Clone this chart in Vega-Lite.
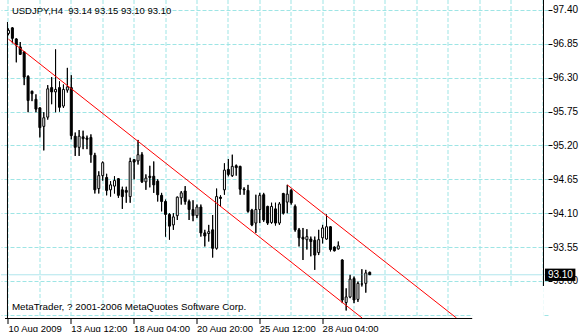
{
  "$schema": "https://vega.github.io/schema/vega-lite/v6.json",
  "width": 547,
  "height": 318,
  "autosize": {"type": "none"},
  "padding": {"left": 1, "top": 0, "right": 36, "bottom": 14},
  "background": "white",
  "config": {
    "view": {"stroke": null},
    "axis": {"labelFont": "Liberation Sans", "labelFontSize": 10, "labelColor": "black"}
  },
  "datasets": {
    "candles": [
      {"i":0,"o":97.02,"h":97.10,"l":96.99,"c":97.07},
      {"i":1,"o":97.11,"h":97.12,"l":96.86,"c":96.94},
      {"i":2,"o":96.93,"h":96.94,"l":96.55,"c":96.83},
      {"i":3,"o":96.80,"h":96.88,"l":96.67,"c":96.68},
      {"i":4,"o":96.72,"h":96.73,"l":96.18,"c":96.31},
      {"i":5,"o":96.32,"h":96.34,"l":95.74,"c":95.93},
      {"i":6,"o":96.08,"h":96.09,"l":95.92,"c":96.04},
      {"i":7,"o":95.95,"h":96.03,"l":95.74,"c":95.79},
      {"i":8,"o":95.81,"h":95.82,"l":95.33,"c":95.49},
      {"i":9,"o":95.51,"h":95.74,"l":95.12,"c":95.65},
      {"i":10,"o":95.66,"h":96.18,"l":95.62,"c":96.12},
      {"i":11,"o":96.14,"h":96.31,"l":95.87,"c":96.07},
      {"i":12,"o":96.07,"h":96.76,"l":95.74,"c":96.11},
      {"i":13,"o":96.14,"h":96.24,"l":95.75,"c":95.82},
      {"i":14,"o":95.84,"h":96.19,"l":95.81,"c":96.11},
      {"i":15,"o":96.10,"h":96.46,"l":96.06,"c":96.15},
      {"i":16,"o":96.14,"h":96.34,"l":95.30,"c":95.36},
      {"i":17,"o":95.35,"h":95.41,"l":95.03,"c":95.17},
      {"i":18,"o":95.17,"h":95.45,"l":95.03,"c":95.35},
      {"i":19,"o":95.34,"h":95.44,"l":95.14,"c":95.31},
      {"i":20,"o":95.32,"h":95.36,"l":95.14,"c":95.30},
      {"i":21,"o":95.33,"h":95.38,"l":94.92,"c":95.05},
      {"i":22,"o":95.04,"h":95.08,"l":94.42,"c":94.48},
      {"i":23,"o":94.50,"h":94.78,"l":94.42,"c":94.71},
      {"i":24,"o":94.71,"h":94.94,"l":94.63,"c":94.92},
      {"i":25,"o":94.68,"h":94.74,"l":94.39,"c":94.47},
      {"i":26,"o":94.48,"h":94.62,"l":94.37,"c":94.56},
      {"i":27,"o":94.54,"h":94.70,"l":94.42,"c":94.63},
      {"i":28,"o":94.66,"h":94.67,"l":94.35,"c":94.39},
      {"i":29,"o":94.48,"h":94.53,"l":94.17,"c":94.37},
      {"i":30,"o":94.47,"h":94.53,"l":94.27,"c":94.44},
      {"i":31,"o":94.37,"h":95.00,"l":94.27,"c":94.94},
      {"i":32,"o":94.97,"h":94.98,"l":94.65,"c":94.93},
      {"i":33,"o":94.95,"h":95.29,"l":94.89,"c":95.05},
      {"i":34,"o":95.05,"h":95.09,"l":94.59,"c":94.61},
      {"i":35,"o":94.61,"h":94.73,"l":94.48,"c":94.67},
      {"i":36,"o":94.70,"h":94.87,"l":94.52,"c":94.68},
      {"i":37,"o":94.70,"h":94.94,"l":94.43,"c":94.56},
      {"i":38,"o":94.62,"h":94.65,"l":94.29,"c":94.40},
      {"i":39,"o":94.39,"h":94.43,"l":94.13,"c":94.29},
      {"i":40,"o":94.29,"h":94.32,"l":93.72,"c":94.08},
      {"i":41,"o":94.08,"h":94.10,"l":93.67,"c":93.89},
      {"i":42,"o":93.91,"h":94.10,"l":93.83,"c":94.04},
      {"i":43,"o":94.06,"h":94.37,"l":93.99,"c":94.36},
      {"i":44,"o":94.35,"h":94.46,"l":94.24,"c":94.43},
      {"i":45,"o":94.46,"h":94.54,"l":94.24,"c":94.29},
      {"i":46,"o":94.29,"h":94.32,"l":93.99,"c":94.16},
      {"i":47,"o":94.16,"h":94.31,"l":93.97,"c":94.06},
      {"i":48,"o":94.06,"h":94.24,"l":94.02,"c":94.20},
      {"i":49,"o":94.20,"h":94.24,"l":93.72,"c":93.78},
      {"i":50,"o":93.78,"h":93.83,"l":93.56,"c":93.73},
      {"i":51,"o":93.77,"h":93.91,"l":93.64,"c":93.80},
      {"i":52,"o":93.83,"h":94.07,"l":93.38,"c":93.53},
      {"i":53,"o":93.53,"h":94.50,"l":93.51,"c":94.37},
      {"i":54,"o":94.36,"h":94.39,"l":94.21,"c":94.34},
      {"i":55,"o":94.48,"h":94.91,"l":94.40,"c":94.80},
      {"i":56,"o":94.81,"h":94.98,"l":94.70,"c":94.73},
      {"i":57,"o":94.71,"h":95.05,"l":94.69,"c":94.86},
      {"i":58,"o":94.87,"h":94.89,"l":94.71,"c":94.84},
      {"i":59,"o":94.86,"h":94.87,"l":94.40,"c":94.49},
      {"i":60,"o":94.49,"h":94.52,"l":94.40,"c":94.48},
      {"i":61,"o":94.47,"h":94.56,"l":94.11,"c":94.13},
      {"i":62,"o":94.15,"h":94.17,"l":93.89,"c":93.91},
      {"i":63,"o":93.94,"h":94.40,"l":93.78,"c":94.16},
      {"i":64,"o":94.16,"h":94.43,"l":93.94,"c":94.39},
      {"i":65,"o":94.40,"h":94.43,"l":93.96,"c":93.99},
      {"i":66,"o":94.21,"h":94.22,"l":93.91,"c":93.94},
      {"i":67,"o":93.95,"h":94.27,"l":93.93,"c":94.21},
      {"i":68,"o":94.17,"h":94.27,"l":93.90,"c":93.94},
      {"i":69,"o":93.94,"h":94.28,"l":93.91,"c":94.25},
      {"i":70,"o":94.42,"h":94.43,"l":94.08,"c":94.10},
      {"i":71,"o":94.28,"h":94.56,"l":94.10,"c":94.41},
      {"i":72,"o":94.47,"h":94.49,"l":94.24,"c":94.27},
      {"i":73,"o":94.21,"h":94.24,"l":93.80,"c":93.83},
      {"i":74,"o":93.83,"h":93.86,"l":93.56,"c":93.70},
      {"i":75,"o":93.71,"h":93.86,"l":93.34,"c":93.68},
      {"i":76,"o":93.67,"h":93.84,"l":93.51,"c":93.72},
      {"i":77,"o":93.68,"h":93.72,"l":93.40,"c":93.64},
      {"i":78,"o":93.66,"h":93.72,"l":93.18,"c":93.42},
      {"i":79,"o":93.46,"h":93.83,"l":93.42,"c":93.67},
      {"i":80,"o":93.70,"h":93.91,"l":93.61,"c":93.86},
      {"i":81,"o":93.68,"h":94.08,"l":93.67,"c":93.88},
      {"i":82,"o":93.88,"h":93.89,"l":93.48,"c":93.51},
      {"i":83,"o":93.55,"h":93.56,"l":93.48,"c":93.49},
      {"i":84,"o":93.52,"h":93.64,"l":93.51,"c":93.57},
      {"i":85,"o":93.34,"h":93.35,"l":92.64,"c":92.69},
      {"i":86,"o":92.65,"h":92.88,"l":92.52,"c":92.74},
      {"i":87,"o":92.74,"h":93.10,"l":92.72,"c":93.03},
      {"i":88,"o":93.04,"h":93.07,"l":92.64,"c":92.69},
      {"i":89,"o":92.70,"h":92.99,"l":92.66,"c":92.96},
      {"i":90,"o":92.95,"h":93.19,"l":92.91,"c":92.95},
      {"i":91,"o":92.96,"h":93.18,"l":92.81,"c":93.13},
      {"i":92,"o":93.14,"h":93.15,"l":93.10,"c":93.10}
    ],
    "channel": [
      {"i1": 0, "p1": 96.927, "i2": 90.06, "p2": 92.398},
      {"i1": 71, "p1": 94.56, "i2": 114.1, "p2": 92.398}
    ],
    "bid": [{"price": 93.10}]
  },
  "layer": [
    {
      "data": {"name": "candles"},
      "mark": {"type": "rule", "color": "black", "strokeWidth": 1},
      "encoding": {
        "x": {
          "field": "i", "type": "quantitative",
          "scale": {"domain": [-0.625, 136.125], "nice": false, "zero": false},
          "axis": {
            "orient": "bottom", "title": null, "domain": false, "translate": 0,
            "values": [0,8,16,24,32,40,48,56,64,72,80,88,96,104,112,120,128,136],
            "tickCount": 200,
            "grid": true, "gridColor": "#9ee5e5", "gridDash": [4, 2], "gridWidth": 1,
            "tickSize": 6,
            "tickColor": {"condition": {"test": "datum.value % 16 == 0 && datum.value <= 80", "value": "black"}, "value": "transparent"},
            "labelExpr": "datum.value == 0 ? '10 Aug 2009' : datum.value == 16 ? '13 Aug 12:00' : datum.value == 32 ? '18 Aug 04:00' : datum.value == 48 ? '20 Aug 20:00' : datum.value == 64 ? '25 Aug 12:00' : datum.value == 80 ? '28 Aug 04:00' : ''",
            "labelAlign": "left", "labelBaseline": "top", "labelPadding": 0, "labelFontSize": 9.5,
            "labelOverlap": false, "labelFlush": false, "labelBound": false
          }
        },
        "y": {
          "field": "l", "type": "quantitative",
          "scale": {"domain": [92.398, 97.5624], "nice": false, "zero": false},
          "axis": {
            "orient": "right", "title": null, "domain": false,
            "values": [92.45, 93.0, 93.55, 94.1, 94.65, 95.2, 95.75, 96.3, 96.85, 97.4],
            "tickCount": 200,
            "grid": true, "gridColor": "#9ee5e5", "gridDash": [4, 2], "gridWidth": 1,
            "tickSize": 4,
            "tickColor": {"condition": {"test": "datum.value < 92.5", "value": "transparent"}, "value": "black"},
            "labelExpr": "datum.value < 92.5 ? '' : format(datum.value, '.2f')",
            "labelAlign": "left", "labelBaseline": "middle", "labelPadding": 0.5,
            "labelOverlap": false, "labelFlush": false, "labelBound": false
          }
        },
        "y2": {"field": "h"}
      }
    },
    {
      "data": {"name": "bid"},
      "mark": {"type": "rule", "color": "#b0e6ec", "strokeWidth": 1},
      "encoding": {
        "y": {"field": "price", "type": "quantitative"}
      }
    },
    {
      "data": {"name": "candles"},
      "mark": {"type": "rule", "color": "black", "strokeWidth": 1},
      "encoding": {
        "x": {"field": "i", "type": "quantitative"},
        "y": {"field": "l", "type": "quantitative"},
        "y2": {"field": "h"}
      }
    },
    {
      "data": {"name": "candles"},
      "mark": {"type": "bar", "size": 2, "stroke": "black", "strokeWidth": 1},
      "encoding": {
        "x": {"field": "i", "type": "quantitative"},
        "y": {"field": "o", "type": "quantitative"},
        "y2": {"field": "c"},
        "fill": {"condition": {"test": "datum.c >= datum.o", "value": "white"}, "value": "black"}
      }
    },
    {
      "data": {"name": "channel"},
      "mark": {"type": "rule", "color": "#ff0000", "strokeWidth": 1},
      "encoding": {
        "x": {"field": "i1", "type": "quantitative"},
        "x2": {"field": "i2"},
        "y": {"field": "p1", "type": "quantitative"},
        "y2": {"field": "p2"}
      }
    },
    {
      "data": {"name": "bid"},
      "mark": {"type": "rect", "fill": "white"},
      "encoding": {
        "x": {"datum": 118.2, "type": "quantitative"},
        "x2": {"datum": 136.3},
        "y": {"datum": 92.918, "type": "quantitative"},
        "y2": {"datum": 92.36}
      }
    },
    {
      "data": {"name": "bid"},
      "mark": {"type": "rule", "color": "black", "strokeWidth": 1},
      "encoding": {
        "x": {"datum": -0.875, "type": "quantitative"},
        "x2": {"datum": 118.1},
        "y": {"datum": 92.39, "type": "quantitative"}
      }
    },
    {
      "data": {"name": "bid"},
      "mark": {"type": "rule", "color": "black", "strokeWidth": 1},
      "encoding": {
        "x": {"datum": 136.25, "type": "quantitative"},
        "y": {"datum": 92.918, "type": "quantitative"},
        "y2": {"datum": 97.5624}
      }
    },
    {
      "data": {"name": "bid"},
      "mark": {"type": "rule", "color": "black", "strokeWidth": 1},
      "encoding": {
        "x": {"datum": -0.25, "type": "quantitative"},
        "y": {"datum": 92.39, "type": "quantitative"},
        "y2": {"datum": 97.205}
      }
    },
    {
      "data": {"name": "bid"},
      "mark": {"type": "rect", "fill": "black"},
      "encoding": {
        "x": {"datum": 136.625, "type": "quantitative"},
        "x2": {"datum": 144.375},
        "y": {"datum": 93.0, "type": "quantitative"},
        "y2": {"datum": 93.2}
      }
    },
    {
      "data": {"name": "bid"},
      "mark": {"type": "text", "color": "white", "font": "Liberation Sans", "fontSize": 10, "align": "left", "baseline": "middle"},
      "encoding": {
        "x": {"datum": 137.375, "type": "quantitative"},
        "y": {"field": "price", "type": "quantitative"},
        "text": {"field": "price", "format": ".2f"}
      }
    },
    {
      "data": {"values": [{"t": "USDJPY,H4\u00a0 93.14 93.15 93.10 93.10"}]},
      "mark": {"type": "text", "color": "black", "font": "Liberation Sans", "fontSize": 9.5, "align": "left", "baseline": "alphabetic"},
      "encoding": {
        "x": {"datum": 0.875, "type": "quantitative"},
        "y": {"datum": 97.335, "type": "quantitative"},
        "text": {"field": "t"}
      }
    },
    {
      "data": {"values": [{"t": "MetaTrader, ? 2001-2006 MetaQuotes Software Corp."}]},
      "mark": {"type": "text", "color": "black", "font": "Liberation Sans", "fontSize": 9.8, "align": "left", "baseline": "alphabetic"},
      "encoding": {
        "x": {"datum": 0.875, "type": "quantitative"},
        "y": {"datum": 92.528, "type": "quantitative"},
        "text": {"field": "t"}
      }
    }
  ]
}
